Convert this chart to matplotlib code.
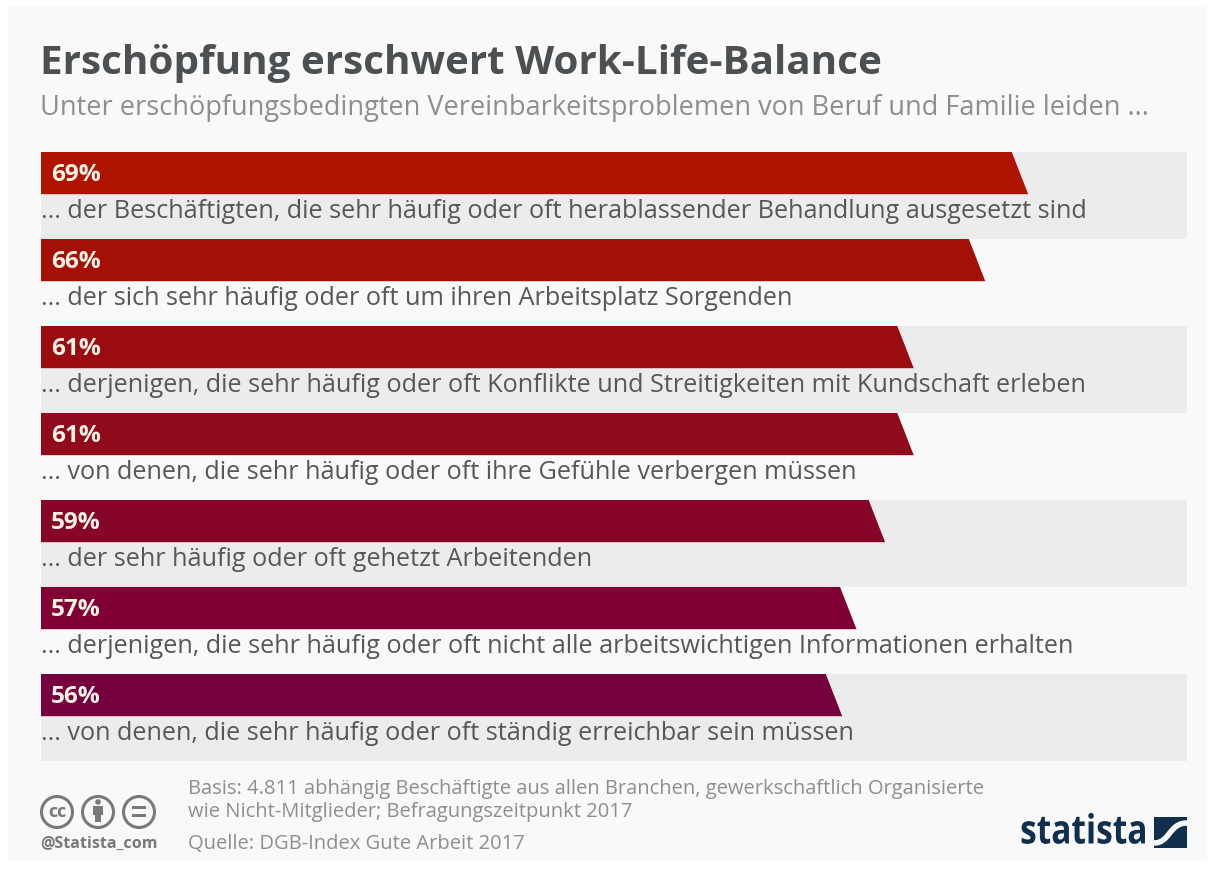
import numpy as np
import matplotlib
matplotlib.use("Agg")
import matplotlib.pyplot as plt
import matplotlib.patheffects as pe
from matplotlib.patches import Circle, PathPatch, Rectangle
from matplotlib.path import Path
from matplotlib.transforms import Affine2D

plt.rcParams['font.family'] = ['Open Sans', 'DejaVu Sans']

# Data
values = [69, 66, 61, 61, 59, 57, 56]
value_labels = ['69%', '66%', '61%', '61%', '59%', '57%', '56%']
categories = [
    '... der Beschäftigten, die sehr häufig oder oft herablassender Behandlung ausgesetzt sind',
    '... der sich sehr häufig oder oft um ihren Arbeitsplatz Sorgenden',
    '... derjenigen, die sehr häufig oder oft Konflikte und Streitigkeiten mit Kundschaft erleben',
    '... von denen, die sehr häufig oder oft ihre Gefühle verbergen müssen',
    '... der sehr häufig oder oft gehetzt Arbeitenden',
    '... derjenigen, die sehr häufig oder oft nicht alle arbeitswichtigen Informationen erhalten',
    '... von denen, die sehr häufig oder oft ständig erreichbar sein müssen',
]
bar_colors = ['#AE1400', '#A41006', '#9B0C10', '#910A1C', '#870527', '#800033', '#75003D']

W, H = 1217, 870
TEXT = '#55585A'
GREY = '#8C8F91'
NAVY = '#0F2F4C'


# Narrows a text horizontally around a fixed pixel x, for the condensed wordmark
class Squeeze(pe.AbstractPathEffect):
    def __init__(self, factor, anchor_x):
        super().__init__()
        self.factor = factor
        self.anchor_x = anchor_x

    def draw_path(self, renderer, gc, tpath, affine, rgbFace=None):
        squeeze = Affine2D().translate(-self.anchor_x, 0).scale(self.factor, 1).translate(self.anchor_x, 0)
        renderer.draw_path(gc, tpath, affine + squeeze, rgbFace)


fig = plt.figure(figsize=(W / 100, H / 100), dpi=100, facecolor='white')

# Full-figure pixel canvas for the background, header and footer
bg = fig.add_axes([0, 0, 1, 1], zorder=0)
bg.set_xlim(0, W)
bg.set_ylim(H, 0)
bg.axis('off')
bg.add_patch(Rectangle((8, 8), 1199, 854, color='#F9F9F9', lw=0))

bg.text(40, 63.5, 'Erschöpfung erschwert Work-Life-Balance', fontsize=29.1, fontweight='bold',
        color='#4D5052', va='center', ha='left')
bg.text(40, 108, 'Unter erschöpfungsbedingten Vereinbarkeitsproblemen von Beruf und Familie leiden ...',
        fontsize=19.5, color=GREY, va='center', ha='left')

# Bar panel: x in percent, y in rows
left, right, top, bottom = 41, 1187, 153, 762
ax = fig.add_axes([left / W, 1 - bottom / H, (right - left) / W, (bottom - top) / H], zorder=1)
ax.set_xlim(0, 80.1)
ax.set_ylim(len(values), 0)
ax.axis('off')

bar_h = 0.485
slant = 1.15
for i, (v, lab, cat, col) in enumerate(zip(values, value_labels, categories, bar_colors)):
    if i % 2 == 0:
        ax.barh(i + 0.5, 80.1, height=1, color='#ECECEC', lw=0, zorder=1)
    # bar with a slanted right end
    ax.fill([0, v - slant, v, 0], [i, i, i + bar_h, i + bar_h], color=col, lw=0, zorder=2)
    ax.text(0.7, i + 0.25, lab, fontsize=17.6, fontweight='bold', color='#FBF3E6',
            va='center', ha='left', zorder=3)
    ax.text(0, i + 0.67, cat, fontsize=18.2, color=TEXT, va='center', ha='left', zorder=3)

# Licence icons
icon = '#77797B'
for cx in (57, 98, 139):
    bg.add_patch(Circle((cx, 813), 15.5, fc='none', ec=icon, lw=2.2))
bg.text(57, 812, 'cc', fontsize=13, fontweight='bold', color=icon, ha='center', va='center')
bg.add_patch(Circle((98, 803), 2.8, fc=icon, lw=0))
bg.add_patch(Rectangle((93, 807), 10, 9, fc=icon, lw=0))
bg.add_patch(Rectangle((95, 816), 6, 7, fc=icon, lw=0))
bg.add_patch(Rectangle((132, 807), 14, 3, fc=icon, lw=0))
bg.add_patch(Rectangle((132, 815), 14, 3, fc=icon, lw=0))
bg.text(40, 844, '@Statista_com', fontsize=11.6, fontweight='bold', color=icon, va='center', ha='left')

# Source notes
bg.text(188, 789, 'Basis: 4.811 abhängig Beschäftigte aus allen Branchen, gewerkschaftlich Organisierte',
        fontsize=14.5, color=GREY, va='center', ha='left')
bg.text(188, 812, 'wie Nicht-Mitglieder; Befragungszeitpunkt 2017', fontsize=14.5, color=GREY,
        va='center', ha='left')
bg.text(188, 844, 'Quelle: DGB-Index Gute Arbeit 2017', fontsize=14.5, color=GREY, va='center', ha='left')

# Logo
bg.text(1147, 834, 'statista', fontsize=29, fontweight='bold', color=NAVY, ha='right', va='center',
        path_effects=[Squeeze(0.83, 1147)])
bg.add_patch(Rectangle((1154, 818), 33, 31, fc=NAVY, lw=0))
swoosh = Path([(1154, 844), (1170, 844), (1169, 824), (1187, 824)],
              [Path.MOVETO, Path.CURVE4, Path.CURVE4, Path.CURVE4])
bg.add_patch(PathPatch(swoosh, fc='none', ec='#F9F9F9', lw=4))

fig.savefig('out.png', dpi=100, facecolor=fig.get_facecolor())
